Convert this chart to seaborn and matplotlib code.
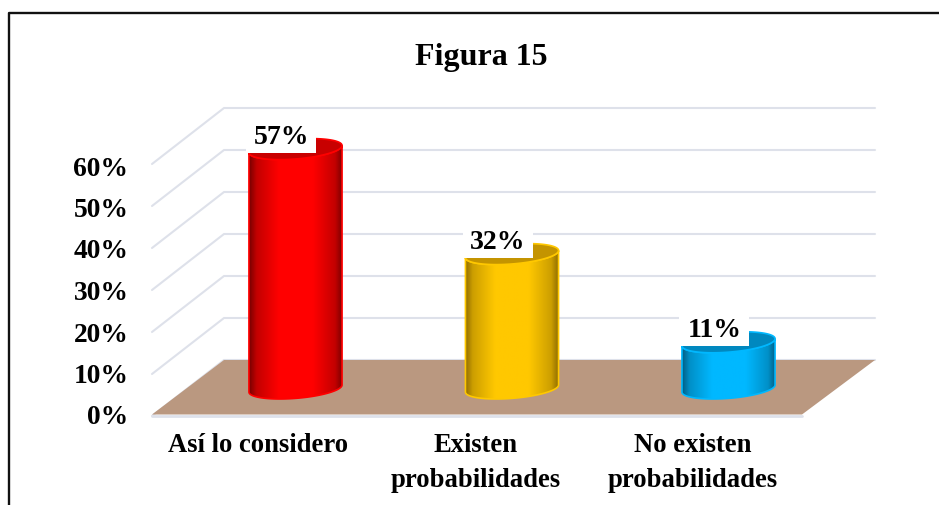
import numpy as np
import matplotlib
matplotlib.use("Agg")
import matplotlib.pyplot as plt
import seaborn as sns
from matplotlib.colors import LinearSegmentedColormap, to_rgb
from matplotlib.path import Path
from matplotlib.patches import PathPatch, Polygon, Rectangle

title = "Figura 15"
categories = ["Así lo considero", "Existen\nprobabilidades", "No existen\nprobabilidades"]
values = [57, 32, 11]
value_labels = ["57%", "32%", "11%"]
y_ticks = [0, 10, 20, 30, 40, 50, 60]
y_tick_labels = ["0%", "10%", "20%", "30%", "40%", "50%", "60%"]

bright = ["#FF0000", "#FFC800", "#00B8FF"]
dark = ["#7A0000", "#8F6C00", "#005F85"]
inner = ["#C80000", "#C49400", "#0088BF"]

W, H = 939, 505
PX_X = 216.5   # pixels per category
PX_Y = 4.2     # pixels per percent
CX0, Y0 = 295.5, 388.5   # pixel of first bar centre and of the bars' zero


def to_x(px):
    return (px - CX0) / PX_X


def to_y(py):
    return (Y0 - py) / PX_Y


def ellipse(cx, cy, half_w, t):
    # tilted ellipse of the cylinder ends, right side sits higher
    x = cx + half_w * np.cos(t)
    y = cy + 2.35 * np.sin(t) + 0.85 * np.cos(t)
    return x, y


sns.set_theme(style="white")
plt.rcParams["font.family"] = ["Liberation Serif", "DejaVu Serif"]
plt.rcParams["font.weight"] = "bold"

fig = plt.figure(figsize=(W / 100, H / 100), dpi=100, facecolor="white")

# main axes fills the figure, bars are placed at mid depth of the 3d box
ax = fig.add_axes([0, 0, 1, 1], facecolor="none")
sns.barplot(x=list(range(3)), y=values, hue=list(range(3)), palette=bright, width=0.43,
            dodge=False, saturation=1, legend=False, ax=ax, zorder=4)
bars = list(ax.patches)
xlim = (to_x(0), to_x(W))
ylim = (to_y(H), to_y(0))

# walls and floor
grid_col = "#DEE1EA"
back_l, back_r, front_l, front_r = to_x(224), to_x(875), to_x(152), to_x(802)
for v in y_ticks:
    back_y = to_y(360 - v * PX_Y)
    front_y = to_y(416 - v * PX_Y)
    ax.plot([front_l, back_l, back_r], [front_y, back_y, back_y], color=grid_col, lw=1.5, zorder=1)
ax.plot([front_l, front_r], [to_y(416)] * 2, color=grid_col, lw=2, zorder=1)
ax.add_patch(Polygon([(front_l, to_y(414.5)), (back_l, to_y(360)), (back_r, to_y(360)), (front_r, to_y(414.5))],
                     closed=True, facecolor="#BA9880", edgecolor="none", zorder=2))

# cylinders on top of the seaborn bars
half_w = 0.215
t_front = np.linspace(np.pi, 2 * np.pi, 80)
t_full = np.linspace(0, 2 * np.pi, 160)
for i, bar in enumerate(bars):
    top = bar.get_height()
    cx = bar.get_x() + bar.get_width() / 2
    low_x, low_y = ellipse(cx, 0, half_w, t_front)
    up_x, up_y = ellipse(cx, top, half_w, t_front)
    body = np.vstack([np.column_stack([low_x, low_y]),
                      np.column_stack([up_x[::-1], up_y[::-1]]),
                      [low_x[0], low_y[0]]])
    body_path = PathPatch(Path(body, closed=True), transform=ax.transData, facecolor="none",
                          edgecolor=bright[i], lw=1.2, zorder=6)
    ax.add_patch(body_path)
    # quick falloff near the rim, then a long soft ramp into the highlight
    soft = tuple(0.55 * np.array(to_rgb(bright[i])) + 0.45 * np.array(to_rgb(dark[i])))
    cmap = LinearSegmentedColormap.from_list(
        "cyl", [(0, dark[i]), (0.08, soft), (0.32, bright[i]), (0.68, bright[i]), (0.92, soft), (1, dark[i])])
    im = ax.imshow(np.linspace(0, 1, 200).reshape(1, -1), cmap=cmap, aspect="auto", zorder=5,
                   extent=(cx - half_w, cx + half_w, -5, top + 5))
    im.set_clip_path(body_path)
    bar.set_clip_path(body_path)
    ex, ey = ellipse(cx, top, half_w, t_full)
    ax.fill(ex, ey, facecolor=inner[i], edgecolor=bright[i], lw=1.2, zorder=7)
    # white label box sits off centre and only just covers the rim
    ax.add_patch(Rectangle((cx - 49.5 / PX_X, top - 4 / PX_Y), 70 / PX_X, 32 / PX_Y,
                           facecolor="white", edgecolor="none", zorder=8))
    ax.annotate(value_labels[i], xy=(cx, top), xytext=(-14, 12), textcoords="offset pixels",
                ha="center", va="center", fontsize=20, fontweight="bold", color="black", zorder=9)

ax.set_xlim(xlim)
ax.set_ylim(ylim)
ax.axis("off")

# front plane axes carries the real ticks
ax_front = fig.add_axes([150 / W, 1 - 415 / H, 651 / W, 249 / H], facecolor="none")
ax_front.set_xlim(-0.5, 2.5)
ax_front.set_ylim(0, 60)
ax_front.set_xticks(range(3))
ax_front.set_xticklabels(categories, fontsize=19.2, fontweight="bold", linespacing=1.5)
ax_front.set_yticks(y_ticks)
ax_front.set_yticklabels(y_tick_labels, fontsize=19.8, fontweight="bold")
ax_front.tick_params(axis="both", length=0, colors="black")
ax_front.tick_params(axis="x", pad=13)
ax_front.tick_params(axis="y", pad=15.5)
sns.despine(ax=ax_front, left=True, bottom=True)

fig.text(481 / W, 1 - 57 / H, title, ha="center", va="center", fontsize=23, fontweight="bold", color="black")

# outer frame, open at the bottom and on the right of the crop
fig.add_artist(plt.Line2D([9 / W, 9 / W, 1], [0, 1 - 13 / H, 1 - 13 / H], color="#111111", lw=1.7))

fig.savefig("out.png", dpi=100)
